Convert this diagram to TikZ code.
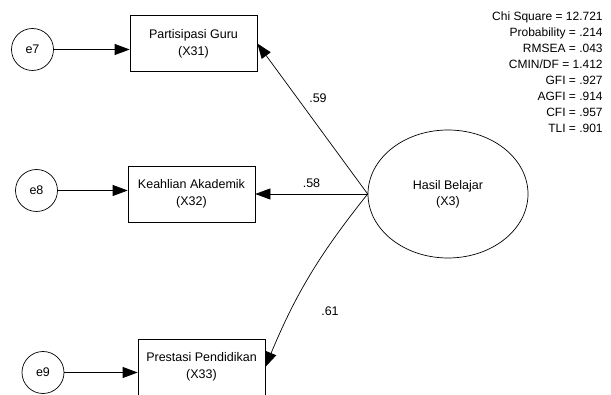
\documentclass[tikz,border=0pt]{standalone}
\usepackage{fontspec}
\setmainfont{Liberation Sans}
\usetikzlibrary{arrows.meta,shapes.geometric}

\tikzset{
  obsbox/.style={draw, rectangle, minimum width=127pt, minimum height=56pt, align=center, inner sep=0pt},
  errvar/.style={draw, circle, minimum size=42pt, inner sep=0pt},
  latvar/.style={draw, ellipse, minimum width=160pt, minimum height=128pt, align=center, inner sep=0pt},
  loading/.style={-{Triangle[length=15pt,width=11pt]}},
  coef/.style={inner sep=0pt}
}

\begin{document}
\begin{tikzpicture}[x=1pt,y=-1pt,font=\fontsize{12.5}{17}\selectfont,line width=0.7pt]
    \useasboundingbox (0,0) rectangle (611,395);
    % indicators
    \node[obsbox] (x31) at (193.5,43.5) {Partisipasi Guru\\(X31)};
    \node[obsbox] (x32) at (191.5,194) {Keahlian Akademik\\(X32)};
    \node[obsbox] (x33) at (201.5,367) {Prestasi Pendidikan\\(X33)};
    % errors
    \node[errvar] (e7) at (32.5,49.5) {e7};
    \node[errvar] (e8) at (36.5,190.5) {e8};
    \node[errvar] (e9) at (43,372.5) {e9};
    \draw[loading] (e7.east) -- (e7.east -| x31.west);
    \draw[loading] (e8.east) -- (e8.east -| x32.west);
    \draw[loading] (e9.east) -- (e9.east -| x33.west);
    % latent variable
    \node[latvar,font=\fontsize{12.5}{16}\selectfont] (x3) at (448,194) {Hasil Belajar\\(X3)};
    \draw[loading] (x3.west) -- (x31.east);
    \draw[loading] (x3.west) -- (x32.east);
    \draw[loading] (x3.west) to[bend right=8] (x33.east);
    \node[coef] (l59) at (318,98) {.59};
    \node[coef] (l58) at (311.5,183) {.58};
    \node[coef] (l61) at (330,311) {.61};
    % fit indices
    \foreach \txt [count=\i from 0] in {Chi Square = 12.721, Probability = .214,
        RMSEA = .043, CMIN/DF = 1.412, GFI = .927, AGFI = .914, CFI = .957, TLI = .901}
        \node[coef,anchor=base east,font=\fontsize{12}{14}\selectfont] (fit\i) at (603,20.2+16.1*\i) {\txt};
\end{tikzpicture}
\end{document}
